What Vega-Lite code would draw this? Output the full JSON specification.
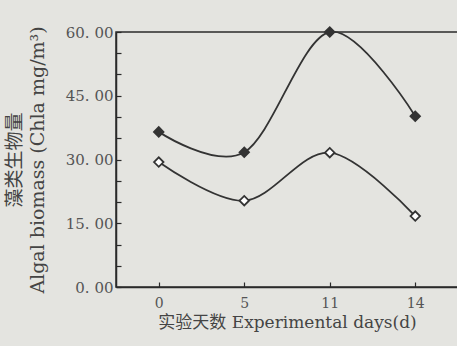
{
  "$schema": "https://vega.github.io/schema/vega-lite/v6.json",
  "width": 342,
  "height": 255,
  "autosize": "none",
  "padding": {"left": 116, "top": 32, "right": 0, "bottom": 59},
  "background": "#e4e4e0",
  "config": {
    "view": {"stroke": "#2a2a2a", "strokeWidth": 1.5},
    "font": "DejaVu Serif, Noto Sans CJK SC"
  },
  "data": {
    "values": [
      {"day": 0, "value": 36.5, "series": "A"},
      {"day": 5, "value": 31.7, "series": "A"},
      {"day": 11, "value": 60.0, "series": "A"},
      {"day": 14, "value": 40.2, "series": "A"},
      {"day": 0, "value": 29.4, "series": "B"},
      {"day": 5, "value": 20.3, "series": "B"},
      {"day": 11, "value": 31.6, "series": "B"},
      {"day": 14, "value": 16.7, "series": "B"}
    ]
  },
  "encoding": {
    "x": {
      "field": "day",
      "type": "ordinal",
      "scale": {"type": "point", "padding": 0.5},
      "axis": {
        "title": "实验天数 Experimental days(d)",
        "titleFont": "DejaVu Serif, Noto Sans CJK SC",
        "titleFontSize": 17,
        "titleFontWeight": "normal",
        "titleColor": "#444",
        "titlePadding": 4,
        "labelAngle": 0,
        "labelFont": "DejaVu Serif",
        "labelFontSize": 14,
        "labelColor": "#555",
        "labelPadding": 14,
        "domainColor": "#2a2a2a",
        "domainWidth": 1.5,
        "tickColor": "#2a2a2a",
        "tickSize": -5,
        "tickWidth": 1.2
      }
    },
    "y": {
      "field": "value",
      "type": "quantitative",
      "scale": {"domain": [0, 60], "nice": false},
      "axis": {
        "title": ["藻类生物量", "Algal biomass (Chla mg/m³)"],
        "titleFont": "DejaVu Serif, Noto Sans CJK SC",
        "titleFontSize": 19,
        "titleFontWeight": "normal",
        "titleColor": "#444",
        "titleLineHeight": 23,
        "titlePadding": 18,
        "values": [0, 5, 10, 15, 20, 25, 30, 35, 40, 45, 50, 55, 60],
        "labelExpr": "datum.value % 15 == 0 ? replace(format(datum.value, '.2f'), '.', '. ') : ''",
        "labelFont": "DejaVu Serif",
        "labelFontSize": 15,
        "labelColor": "#555",
        "labelPadding": 8,
        "domainColor": "#2a2a2a",
        "domainWidth": 1.5,
        "tickColor": "#2a2a2a",
        "tickSize": -5,
        "tickWidth": 1.2,
        "grid": false
      }
    }
  },
  "layer": [
    {
      "mark": {"type": "line", "interpolate": "cardinal", "color": "#333333", "strokeWidth": 1.8},
      "encoding": {"detail": {"field": "series"}}
    },
    {
      "mark": {"type": "point", "shape": "diamond", "size": 90, "strokeWidth": 1.8, "opacity": 1, "stroke": "#333"},
      "encoding": {
        "fill": {
          "field": "series",
          "type": "nominal",
          "scale": {"domain": ["A", "B"], "range": ["#333333", "#ffffff"]},
          "legend": null
        }
      }
    }
  ]
}
